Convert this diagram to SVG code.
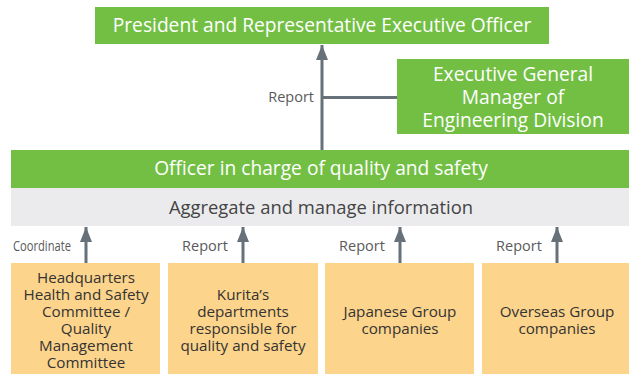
<svg xmlns="http://www.w3.org/2000/svg" width="629" height="374" viewBox="0 0 629 374">
<style>
.g{fill:#72bf44}
.o{fill:#fdd48b}
.w{fill:#ffffff;font-family:"Open Sans","Noto Sans",sans-serif;font-size:19.2px;text-anchor:middle}
.d{fill:#333333;font-family:"Open Sans","Noto Sans",sans-serif;font-size:15.2px;text-anchor:middle}
.l{fill:#5a5a5a;font-family:"Open Sans","Noto Sans",sans-serif;font-size:14.5px}
.c{stroke:#67717a;stroke-width:3;fill:none}
</style>
<defs>
<marker id="ah" markerUnits="userSpaceOnUse" markerWidth="15" markerHeight="12" refX="15" refY="6" orient="auto" viewBox="0 0 15 12">
<path d="M0,0 L15,6 L0,12 Z" fill="#67717a"/>
</marker>
</defs>
<g id="president">
<rect class="g" x="95" y="7" width="454" height="37"/>
<text class="w" x="322" y="32">President and Representative Executive Officer</text>
</g>
<g id="exec-gm">
<rect class="g" x="397" y="59" width="232" height="75"/>
<text class="w" x="513" y="81">Executive General</text>
<text class="w" x="513" y="104">Manager of</text>
<text class="w" x="513" y="127">Engineering Division</text>
</g>
<g id="officer">
<rect class="g" x="11" y="150" width="618" height="38"/>
<text class="w" x="321" y="175">Officer in charge of quality and safety</text>
</g>
<g id="aggregate">
<rect fill="#ebebed" x="11" y="188" width="618" height="38"/>
<text class="w" style="fill:#444444;font-size:18.4px" x="321" y="214">Aggregate and manage information</text>
</g>
<g id="hq">
<rect class="o" x="11" y="263" width="149" height="111"/>
<text class="d" x="86" y="283">Headquarters</text>
<text class="d" x="86" y="300">Health and Safety</text>
<text class="d" x="86" y="317">Committee /</text>
<text class="d" x="86" y="334">Quality</text>
<text class="d" x="86" y="351">Management</text>
<text class="d" x="86" y="368">Committee</text>
</g>
<g id="kurita">
<rect class="o" x="168" y="263" width="150" height="111"/>
<text class="d" x="243" y="300">Kurita’s</text>
<text class="d" x="243" y="317">departments</text>
<text class="d" x="243" y="334">responsible for</text>
<text class="d" x="243" y="351">quality and safety</text>
</g>
<g id="japanese">
<rect class="o" x="325" y="263" width="149" height="111"/>
<text class="d" x="400" y="317">Japanese Group</text>
<text class="d" x="400" y="334">companies</text>
</g>
<g id="overseas">
<rect class="o" x="482" y="263" width="147" height="111"/>
<text class="d" x="557" y="317">Overseas Group</text>
<text class="d" x="557" y="334">companies</text>
</g>
<g id="connectors">
<line class="c" x1="322" y1="150" x2="322" y2="45" marker-end="url(#ah)"/>
<line class="c" x1="322" y1="97.5" x2="397" y2="97.5"/>
<line class="c" x1="86" y1="263" x2="86" y2="227" marker-end="url(#ah)"/>
<line class="c" x1="243" y1="263" x2="243" y2="227" marker-end="url(#ah)"/>
<line class="c" x1="400" y1="263" x2="400" y2="227" marker-end="url(#ah)"/>
<line class="c" x1="557" y1="263" x2="557" y2="227" marker-end="url(#ah)"/>
<text class="l" x="314" y="102" text-anchor="end">Report</text>
<text class="l" x="13" y="251" textLength="58" lengthAdjust="spacingAndGlyphs">Coordinate</text>
<text class="l" x="205" y="251" text-anchor="middle">Report</text>
<text class="l" x="362" y="251" text-anchor="middle">Report</text>
<text class="l" x="519" y="251" text-anchor="middle">Report</text>
</g>
</svg>
